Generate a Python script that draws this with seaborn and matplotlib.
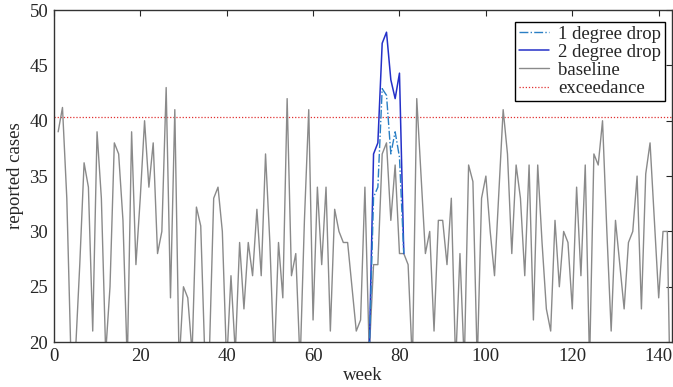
import numpy as np
import pandas as pd
import matplotlib
matplotlib.use("Agg")
import matplotlib.pyplot as plt
import seaborn as sns

# weekly reported cases, weeks 1..143
baseline = [39, 41.2, 33, 18, 19, 27, 36.2, 34, 21, 39,
            33, 19, 25, 38, 37, 31, 18, 39, 27, 33,
            40, 34, 38, 28, 30, 43, 24, 41, 18, 25,
            24, 19, 32.2, 30.5, 18, 19, 33, 34, 30, 18,
            26, 19, 29, 23, 29, 26, 32, 26, 37, 29,
            18, 29, 24, 42, 26, 28, 18, 31, 41, 22,
            34, 27, 34, 21, 32, 30, 29, 29, 25, 21,
            22, 34, 19, 27, 27, 37, 38, 31, 36, 28,
            28, 27, 18, 42, 35, 28, 30, 21, 31, 31,
            27, 33, 18, 28, 18, 36, 34.5, 18, 33, 35,
            30, 26, 33.5, 41, 37, 28, 36, 33, 26, 36,
            22, 36, 29, 23, 21, 31, 25, 30, 29, 23,
            34, 26, 36, 18, 37, 36, 40, 30, 21, 31,
            27, 23, 29, 30, 35, 23, 35.2, 38, 31, 24,
            30, 30, 8]
weeks = list(range(1, len(baseline) + 1))

# outbreak scenarios, weeks 73..81
drop_weeks = [73, 74, 75, 76, 77, 78, 79, 80, 81]
drop1 = [19, 33.1, 34, 42.9, 42.3, 37, 39, 36.7, 28]
drop2 = [19, 37, 38, 47, 48, 43.7, 42, 44.3, 28]

exceedance = 40.35

df_base = pd.DataFrame({"week": weeks, "cases": baseline})
df1 = pd.DataFrame({"week": drop_weeks, "cases": drop1})
df2 = pd.DataFrame({"week": drop_weeks, "cases": drop2})

sns.set_style("white")
plt.rcParams["font.family"] = ["Liberation Serif", "DejaVu Serif"]

fig = plt.figure(figsize=(6.73, 3.87), dpi=100)
ax = fig.add_axes([0.080, 0.116, 0.918, 0.858])

sns.lineplot(data=df1, x="week", y="cases", ax=ax, color="#2a7fc4",
             linestyle="-.", linewidth=1.0, label="1 degree drop", zorder=4)
sns.lineplot(data=df2, x="week", y="cases", ax=ax, color="#2430c8",
             linewidth=1.1, label="2 degree drop", zorder=3)
sns.lineplot(data=df_base, x="week", y="cases", ax=ax, color="#8a8a8a",
             linewidth=1.0, label="baseline", zorder=2)
ax.axhline(exceedance, color="#e03030", linestyle=(0, (1, 1.5)),
           linewidth=0.9, label="exceedance", zorder=1)

ax.set_xlim(0, 143)
ax.set_ylim(20, 50)
ax.set_xticks(range(0, 141, 20))
ax.set_yticks(range(20, 51, 5))
ax.set_xlabel("week", fontsize=13.5, labelpad=2)
ax.set_ylabel("reported cases", fontsize=13.5, labelpad=4)
ax.tick_params(direction="in", top=True, right=True, length=4,
               width=0.8, labelsize=13.5, pad=4)
for s in ax.spines.values():
    s.set_color("#333333")
    s.set_linewidth(1.0)

leg = ax.legend(loc="upper right", bbox_to_anchor=(0.989, 0.964),
                fontsize=13.5, frameon=True, fancybox=False,
                edgecolor="black", framealpha=1, handlelength=1.6,
                handletextpad=0.5, borderpad=0.2, labelspacing=0.05,
                borderaxespad=0)
leg.get_frame().set_linewidth(1.0)

fig.savefig("out.png", dpi=100)
